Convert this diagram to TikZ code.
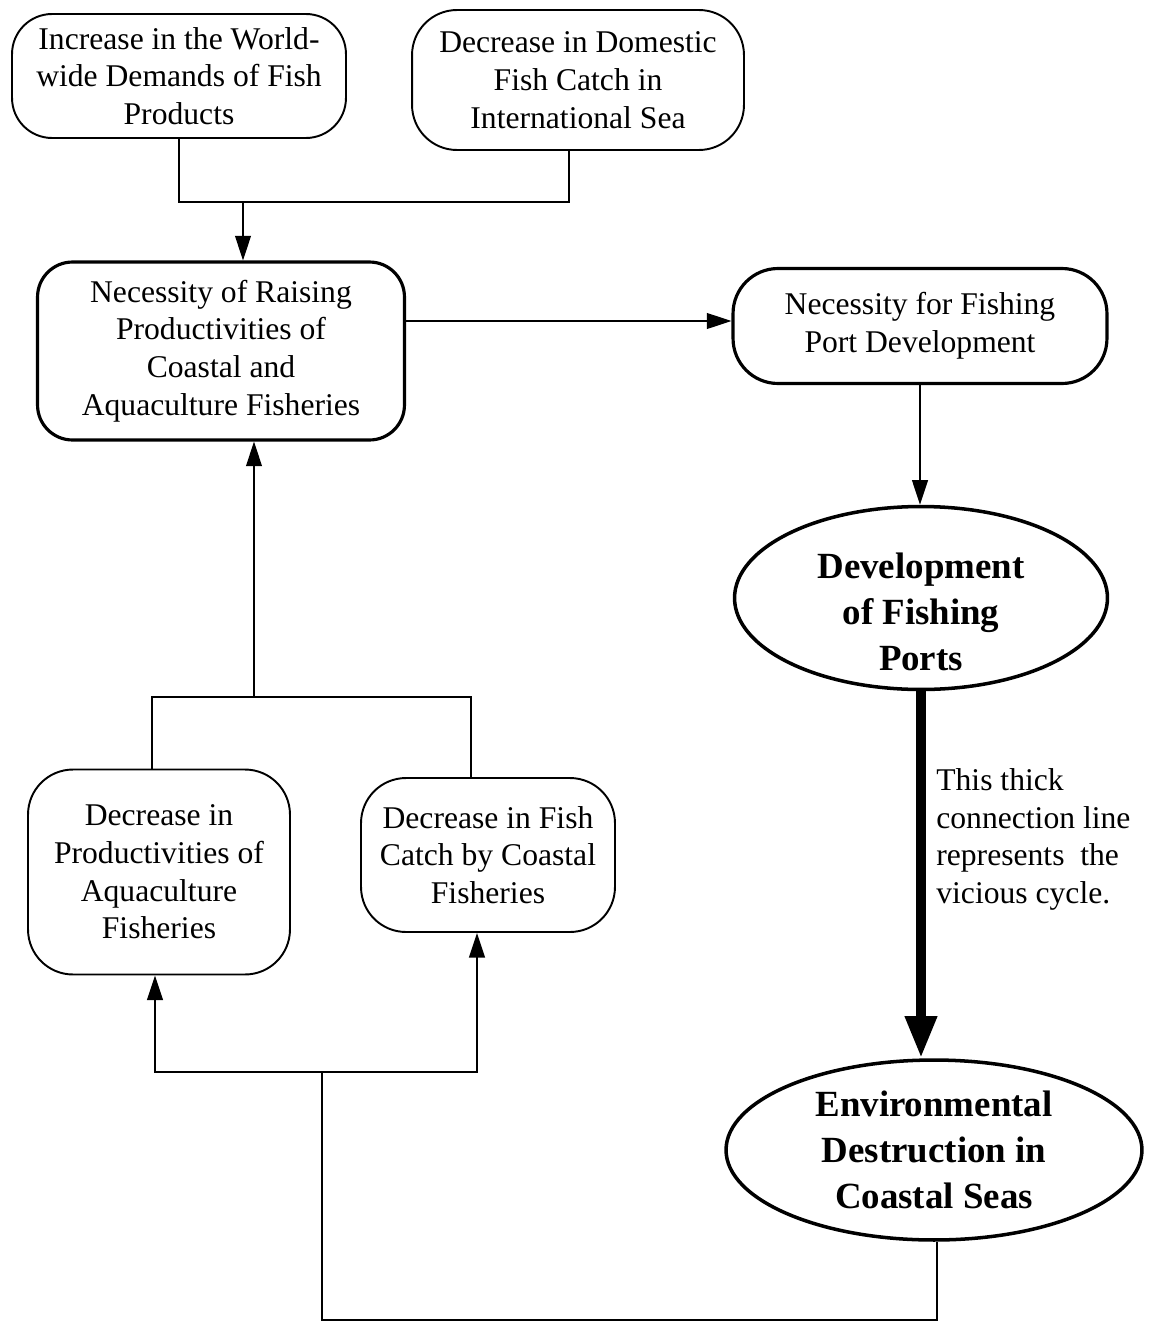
\documentclass[tikz,border=0pt]{standalone}
\usepackage{fontspec}
\setmainfont{Liberation Serif}
\usetikzlibrary{arrows.meta,shapes.geometric}
\begin{document}
\begin{tikzpicture}[x=0.02cm,y=-0.02cm,
  every node/.style={inner sep=0pt,align=center},
  txt/.style={font=\fontsize{18}{21.5}\selectfont},
  boldtxt/.style={font=\fontsize{21}{26}\selectfont\bfseries},
  rbox/.style={txt,draw,line width=1.1pt,rectangle,rounded corners=#1},
  rbox/.default=0.9cm,
  tbox/.style={txt,draw,line width=1.8pt,rectangle,rounded corners=#1},
  tbox/.default=0.9cm,
  ell/.style={draw,line width=2pt,ellipse},
  link/.style={line width=0.85pt},
  arr/.style={link,-{Triangle[length=14pt,width=9pt]}},
  thickarr/.style={line width=5.7pt,-{Triangle[length=24pt,width=17pt]}}
]
\useasboundingbox (0,0) rectangle (1155,1332);

% upper causes
\node[rbox=0.8cm,minimum width=6.68cm,minimum height=2.48cm] (n1) at (179,76)
  {Increase in the World-\\wide Demands of Fish\\Products};
\node[rbox,minimum width=6.64cm,minimum height=2.8cm] (n2) at (578,80)
  {Decrease in Domestic\\Fish Catch in\\International Sea};

% central needs
\node[tbox=0.7cm,minimum width=7.34cm,minimum height=3.56cm] (n3) at (221,351)
  {Necessity of Raising\\Productivities of\\Coastal and\\Aquaculture Fisheries};
\node[tbox,minimum width=7.48cm,minimum height=2.3cm] (n4) at (920,326)
  {Necessity for Fishing\\Port Development};

% ports and environment
\node[ell,minimum width=7.46cm,minimum height=3.66cm] (n5) at (921,598) {};
\node[boldtxt] (t5) at (921,612) {Development\\of Fishing\\Ports};
\node[ell,boldtxt,minimum width=8.32cm,minimum height=3.6cm] (n6) at (934,1150)
  {Environmental\\Destruction in\\Coastal Seas};

% lower effects
\node[rbox,minimum width=5.24cm,minimum height=4.1cm] (n7) at (159,872)
  {Decrease in\\Productivities of\\Aquaculture\\Fisheries};
\node[rbox,minimum width=5.08cm,minimum height=3.08cm] (n8) at (488,855)
  {Decrease in Fish\\Catch by Coastal\\Fisheries};

% note on the thick line
\node[txt,anchor=north west,align=left] (note) at (936,768)
  {This thick\\connection line\\represents~ the\\vicious cycle.};

% junction points
\coordinate (jt) at (243,202);
\coordinate (jr) at (0,321);
\coordinate (jb) at (254,697);
\coordinate (jl) at (322,1072);
\coordinate (jbot) at (322,1320);

% connectors
\draw[link] (n1.south) |- (jt) -| ([xshift=-0.18cm]n2.south);
\draw[arr] (jt) -- (jt |- n3.north);
\draw[arr] (n3.east |- jr) -- (n4.west |- jr);
\draw[arr] (n4.south) -- (n4.south |- n5.north);
\draw[thickarr] (n5.south) -- (n5.south |- n6.north);
\draw[link] ([xshift=-0.14cm]n7.north) |- (jb) -| ([xshift=-0.34cm]n8.north);
\draw[arr] (jb) -- (jb |- n3.south);
\draw[link] ([xshift=0.06cm]n6.south) |- (jbot) -- (jl);
\draw[arr] (jl) -| ([xshift=-0.08cm]n7.south);
\draw[arr] (jl) -| ([xshift=-0.22cm]n8.south);
\end{tikzpicture}
\end{document}
